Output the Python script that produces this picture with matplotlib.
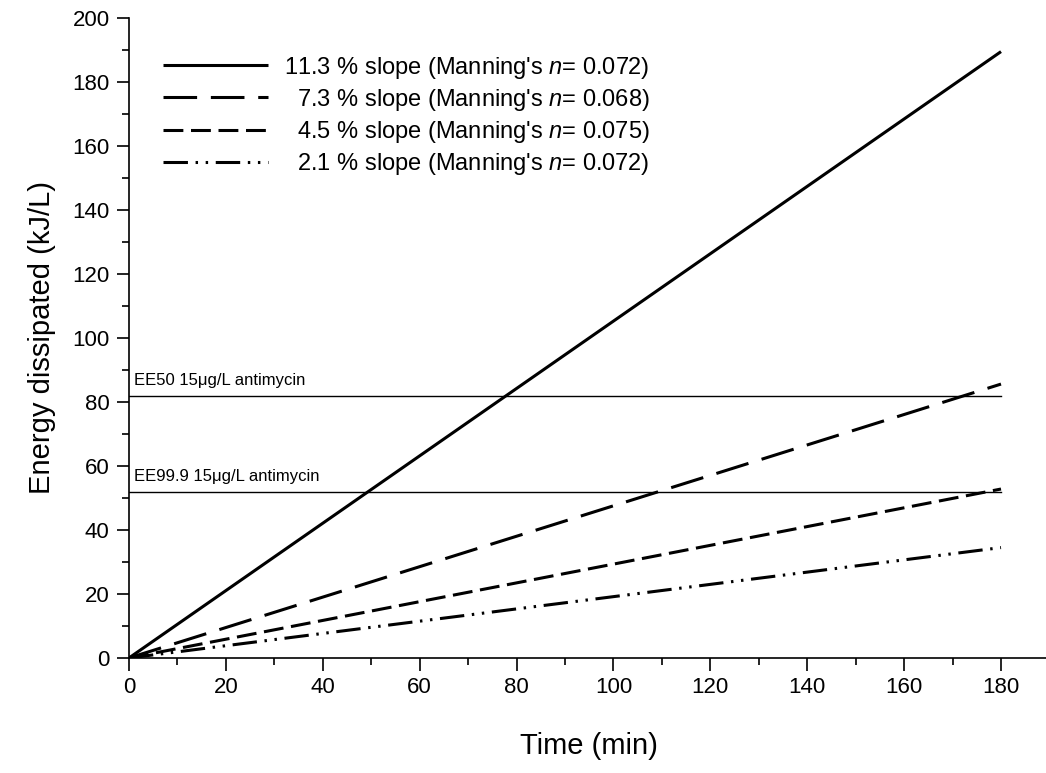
import numpy as np
import matplotlib.pyplot as plt
from matplotlib.ticker import FixedLocator

plt.rcParams['font.family'] = ['Liberation Sans', 'DejaVu Sans']
plt.rcParams['mathtext.fontset'] = 'custom'
plt.rcParams['mathtext.rm'] = 'Liberation Sans'
plt.rcParams['mathtext.it'] = 'Liberation Sans:italic'

# data: energy dissipated is linear in time, read at t = 0 and t = 180 min
time = [0, 180]
slopes = ['11.3', '7.3', '4.5', '2.1']
mannings_n = ['0.072', '0.068', '0.075', '0.072']
energy = [[0, 189.5], [0, 85.6], [0, 52.8], [0, 34.5]]
ee_levels = [82, 52]
ee_labels = ['EE50 15\u03bcg/L antimycin', 'EE99.9 15\u03bcg/L antimycin']

dashes = [None, (11, 4.5), (6.5, 2.5), (8, 2.5, 0.8, 2.5, 0.8, 2.5)]

fig = plt.figure(figsize=(10.46, 7.73), dpi=100)
ax = fig.add_axes([0.1233, 0.1488, 0.880, 0.8279])

for i in range(len(slopes)):
	pad = ' ' * (2 * (5 - len(slopes[i])))
	label = pad + slopes[i] + ' % slope (Manning\'s $\\it{n}$= ' + mannings_n[i] + ')'
	line, = ax.plot(time, energy[i], color='black', lw=2.2, label=label, solid_capstyle='butt')
	if dashes[i] is not None:
		line.set_dashes(dashes[i])
		line.set_dash_capstyle('butt')

for lev, txt in zip(ee_levels, ee_labels):
	ax.plot(time, [lev, lev], color='black', lw=1.0)
	ax.text(1, lev + 2.3, txt, fontsize=12, ha='left', va='bottom')

ax.set_xlim(0, 190)
ax.set_ylim(0, 200)
ax.xaxis.set_major_locator(FixedLocator(np.arange(0, 181, 20)))
ax.xaxis.set_minor_locator(FixedLocator(np.arange(10, 180, 20)))
ax.yaxis.set_major_locator(FixedLocator(np.arange(0, 201, 20)))
ax.yaxis.set_minor_locator(FixedLocator(np.arange(10, 200, 20)))

for side in ['top', 'right']:
	ax.spines[side].set_visible(False)
for side in ['left', 'bottom']:
	ax.spines[side].set_linewidth(1.2)

ax.tick_params(which='major', direction='out', length=9, width=1.2, labelsize=16, pad=5)
ax.tick_params(which='minor', direction='out', length=5, width=1.2)

ax.set_xlabel('Time (min)', fontsize=21, labelpad=24)
ax.set_ylabel('Energy dissipated (kJ/L)', fontsize=21, labelpad=12)

leg = ax.legend(loc='upper left', bbox_to_anchor=(0.014, 0.976), frameon=False, fontsize=17,
	handlelength=4.45, handletextpad=0.1, labelspacing=0.26)

fig.savefig('out.png', dpi=100)
